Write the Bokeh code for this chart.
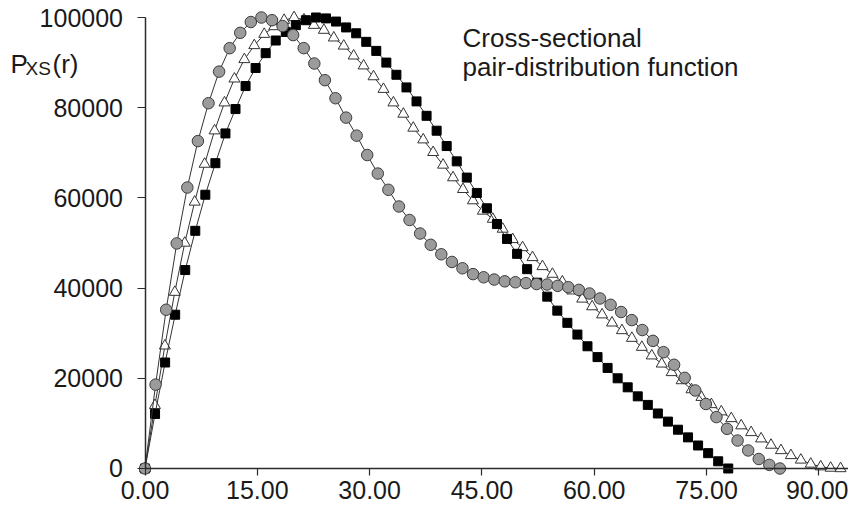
import numpy as np
from bokeh.plotting import figure
from bokeh.models import Range1d, FixedTicker, NumeralTickFormatter, Label
from bokeh.embed import file_html
from bokeh.resources import INLINE

# ---- data ----
# r grids: each curve is sampled uniformly from 0 to its own Dmax
sq_dmax, sq_n = 77.9, 59
ci_dmax, ci_n = 84.8, 61
tr_dmax, tr_n = 92.9, 71

sq_p = [0, 12100, 23500, 34100, 44000, 52700, 60700, 67700, 74300, 79700,
        84800, 88800, 92100, 94900, 96800, 98300, 99400, 100000, 99800, 99100,
        97800, 96500, 94600, 92600, 90000, 87300, 84500, 81400, 78200, 74900,
        71500, 68100, 64500, 61100, 57700, 54200, 50900, 47600, 44200, 41200,
        38100, 35000, 32300, 29700, 27100, 24700, 22300, 20000, 18000, 16000,
        14100, 12200, 10400, 8600, 6900, 5100, 3400, 1600, 0]

ci_p = [0, 18600, 35200, 49900, 62300, 72600, 81000, 88000, 93200, 96600,
        99000, 100000, 99400, 98100, 96100, 93200, 89800, 86100, 82100, 77800,
        73800, 69500, 65400, 61800, 58100, 55100, 52100, 49600, 47500, 45800,
        44400, 43100, 42400, 41900, 41500, 41300, 41100, 40900, 40800, 40500,
        40200, 39600, 38800, 37700, 36300, 34700, 32900, 30700, 28300, 25800,
        23000, 20100, 17300, 14300, 11400, 8800, 6200, 4000, 2100, 800, 0]

tr_p = [0, 14000, 27200, 39100, 50000, 59100, 67500, 74900, 81100, 86400,
        90700, 93800, 96300, 98000, 99400, 100000, 99500, 98300, 97200, 95500,
        93700, 91500, 89300, 86900, 84100, 81100, 78600, 75500, 72900, 70100,
        67300, 64500, 61900, 59400, 57100, 55300, 53100, 50800, 49000, 46800,
        44800, 43100, 41400, 39400, 37600, 35900, 34100, 32300, 30600, 28900,
        26900, 25000, 23200, 21300, 19500, 17500, 15800, 14200, 12600, 11100,
        9500, 8000, 6600, 5200, 4000, 2900, 1900, 1000, 400, 100, 0]

x_ticks = [0, 15, 30, 45, 60, 75, 90]
y_ticks = [0, 20000, 40000, 60000, 80000, 100000]
title_lines = ["Cross-sectional", "pair-distribution function"]

sq_r = np.linspace(0, sq_dmax, sq_n)
ci_r = np.linspace(0, ci_dmax, ci_n)
tr_r = np.linspace(0, tr_dmax, tr_n)

FONT = "Liberation Sans"
TXT = "#1a1a1a"

# The frame covers the whole canvas; axes are pinned at r=0 and P=0
p = figure(frame_width=848, frame_height=514,
           x_range=Range1d(-19.30, 93.96), y_range=Range1d(-10200, 103770),
           output_backend="svg", toolbar_location=None,
           min_border_left=0, min_border_right=0, min_border_top=0,
           min_border_bottom=0)
p.outline_line_color = None
p.xgrid.visible = False
p.ygrid.visible = False

for ax in (p.xaxis[0], p.yaxis[0]):
    ax.axis_line_color = "#2b2b2b"
    ax.axis_line_width = 1.5
    ax.major_tick_line_color = "#2b2b2b"
    ax.major_tick_line_width = 1.2
    ax.minor_tick_line_color = None
    ax.major_tick_in = 0
    ax.major_label_text_font = FONT
    ax.major_label_text_font_size = "25px"
    ax.major_label_text_color = TXT
    ax.fixed_location = 0

p.xaxis[0].ticker = FixedTicker(ticks=x_ticks)
p.xaxis[0].formatter = NumeralTickFormatter(format="0.00")
p.xaxis[0].major_tick_out = 7
p.xaxis[0].major_label_standoff = 6
p.xaxis[0].bounds = (0, 94)
p.yaxis[0].ticker = FixedTicker(ticks=y_ticks)
p.yaxis[0].formatter = NumeralTickFormatter(format="0")
p.yaxis[0].major_tick_out = 8
p.yaxis[0].major_label_standoff = 14
p.yaxis[0].bounds = (0, 100000)

line_col = "#333333"
# triangles (open)
p.line(tr_r, tr_p, line_color=line_col, line_width=1)
p.scatter(tr_r, tr_p, marker="triangle", size=11, fill_color="white",
          line_color="#333333", line_width=1)
# squares (black)
p.line(sq_r, sq_p, line_color=line_col, line_width=1)
p.scatter(sq_r, sq_p, marker="square", size=9, fill_color="black",
          line_color="black", line_width=1)
# circles (grey)
p.line(ci_r, ci_p, line_color=line_col, line_width=1)
p.scatter(ci_r, ci_p, marker="circle", size=11.5, fill_color="#9b9b9b",
          line_color="#3c3c3c", line_width=1)

# annotation text
p.add_layout(Label(x=42.41, y=95565, text=title_lines[0], text_font=FONT,
                   text_font_size="26px", text_color=TXT,
                   text_baseline="alphabetic"))
p.add_layout(Label(x=42.41, y=89135, text=title_lines[1], text_font=FONT,
                   text_font_size="26px", text_color=TXT,
                   text_baseline="alphabetic"))
# y-axis title P_XS(r)
p.add_layout(Label(x=-17.96, y=89800, text="P", text_font=FONT,
                   text_font_size="26px", text_color=TXT,
                   text_baseline="alphabetic"))
p.add_layout(Label(x=-15.96, y=88692, text="XS", text_font=FONT,
                   text_font_size="19px", text_color=TXT,
                   text_baseline="alphabetic"))
p.add_layout(Label(x=-12.35, y=89800, text="(r)", text_font=FONT,
                   text_font_size="26px", text_color=TXT,
                   text_baseline="alphabetic"))

open("out.html", "w").write(file_html(p, INLINE))
